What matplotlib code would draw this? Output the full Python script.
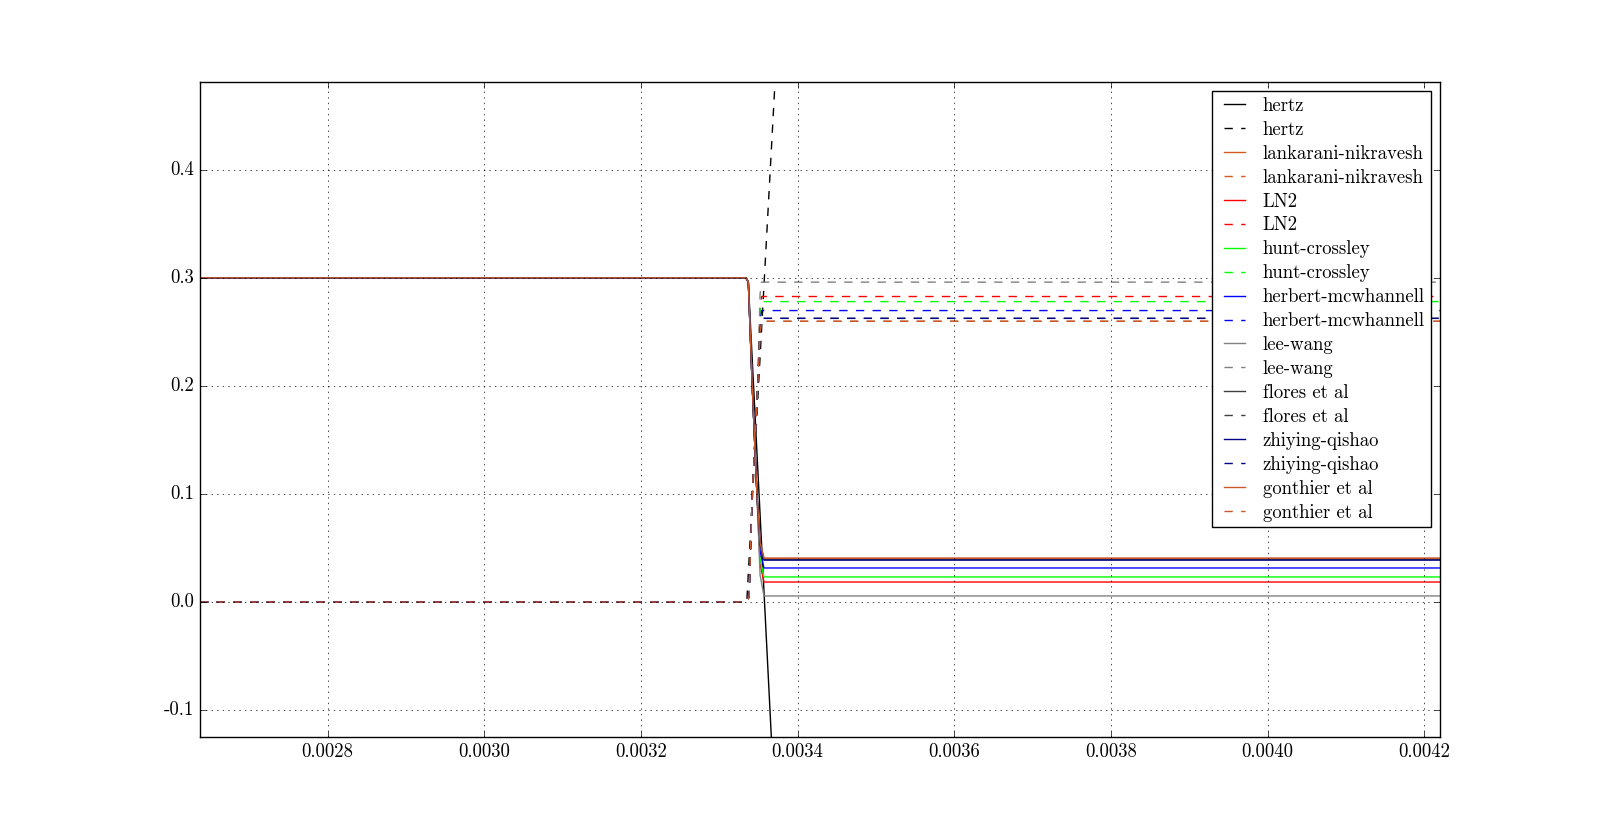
import matplotlib
matplotlib.use("Agg")
import matplotlib.pyplot as plt

plt.style.use("classic")
plt.rcParams['font.family'] = ['serif']
plt.rcParams['font.serif'] = ['cmr10', 'DejaVu Serif']
plt.rcParams['font.size'] = 13.5
plt.rcParams['axes.unicode_minus'] = False

# models (legend order) and colours
models = ["hertz", "lankarani-nikravesh", "LN2", "hunt-crossley", "herbert-mcwhannell",
          "lee-wang", "flores et al", "zhiying-qishao", "gonthier et al"]
colors = ["k", "#d35a1c", "r", "lime", "b", "gray", "#404040", "darkblue", "#c9592a"]

# time breakpoints (s)
t_pos = [0.002637, 0.003334, 0.003337, 0.003342, 0.003348, 0.003352, 0.003357, 0.00422]
t_vel = [0.002637, 0.003335, 0.003338, 0.003342, 0.003349, 0.003352, 0.003354, 0.00422]
t_hertz = [0.002637, 0.003334, 0.003337, 0.00338]
t_hertz_v = [0.002637, 0.003335, 0.00338]

# solid curves (position-like)
pos = {
    "hertz":               [0.3, 0.3, 0.296, -0.32],
    "lankarani-nikravesh": [0.3, 0.3, 0.296, 0.2, 0.1, 0.055, 0.0405, 0.0405],
    "LN2":                 [0.3, 0.3, 0.296, 0.2, 0.1, 0.035, 0.0185, 0.0185],
    "hunt-crossley":       [0.3, 0.3, 0.296, 0.2, 0.1, 0.040, 0.0232, 0.0232],
    "herbert-mcwhannell":  [0.3, 0.3, 0.296, 0.2, 0.1, 0.047, 0.0315, 0.0315],
    "lee-wang":            [0.3, 0.3, 0.296, 0.2, 0.1, 0.025, 0.0056, 0.0056],
    "flores et al":        [0.3, 0.3, 0.296, 0.2, 0.1, 0.054, 0.0392, 0.0392],
    "zhiying-qishao":      [0.3, 0.3, 0.296, 0.2, 0.1, 0.054, 0.0388, 0.0388],
    "gonthier et al":      [0.3, 0.3, 0.296, 0.2, 0.1, 0.055, 0.0405, 0.0405],
}

# dashed curves (velocity-like)
vel = {
    "hertz":               [0.0, 0.0, 0.6],
    "lankarani-nikravesh": [0.0, 0.0, 0.005, 0.1, 0.2, 0.250, 0.2598, 0.2598],
    "LN2":                 [0.0, 0.0, 0.005, 0.1, 0.2, 0.272, 0.2827, 0.2827],
    "hunt-crossley":       [0.0, 0.0, 0.005, 0.1, 0.2, 0.268, 0.278, 0.278],
    "herbert-mcwhannell":  [0.0, 0.0, 0.005, 0.1, 0.2, 0.260, 0.2697, 0.2697],
    "lee-wang":            [0.0, 0.0, 0.005, 0.1, 0.2, 0.285, 0.296, 0.296],
    "flores et al":        [0.0, 0.0, 0.005, 0.1, 0.2, 0.252, 0.2625, 0.2625],
    "zhiying-qishao":      [0.0, 0.0, 0.005, 0.1, 0.2, 0.252, 0.2625, 0.2625],
    "gonthier et al":      [0.0, 0.0, 0.005, 0.1, 0.2, 0.250, 0.2598, 0.2598],
}

fig = plt.figure(figsize=(16, 8.19), dpi=100, facecolor="white")
ax = fig.add_subplot(111)

for name, c in zip(models, colors):
    if name == "hertz":
        ax.plot(t_hertz, pos[name], "-", color=c, label=name)
        ax.plot(t_hertz_v, vel[name], "--", color=c, label=name)
    else:
        ax.plot(t_pos, pos[name], "-", color=c, label=name)
        ax.plot(t_vel, vel[name], "--", color=c, label=name)

ax.set_xlim(t_pos[0], t_pos[-1])
ax.set_ylim(-0.125, 0.4813)
ax.set_xticks([0.0028, 0.0030, 0.0032, 0.0034, 0.0036, 0.0038, 0.0040, 0.0042])
ax.set_yticks([-0.1, 0.0, 0.1, 0.2, 0.3, 0.4])
ax.ticklabel_format(useOffset=False)
ax.grid(True)
ax.legend(loc="upper right", fontsize=13.5, handlelength=1.75, labelspacing=0.32,
          handletextpad=0.65, borderpad=0.3)

fig.savefig("out.png", dpi=100, facecolor="white")
